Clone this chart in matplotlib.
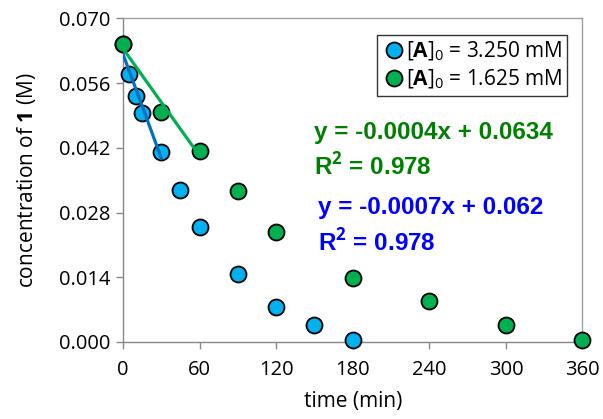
import numpy as np
import matplotlib
matplotlib.use("Agg")
import matplotlib.pyplot as plt
from matplotlib.lines import Line2D

plt.rcParams['font.family'] = ['Open Sans', 'DejaVu Sans']
plt.rcParams['mathtext.fontset'] = 'custom'
plt.rcParams['mathtext.rm'] = 'Open Sans'
plt.rcParams['mathtext.bf'] = 'Open Sans:bold'

# time (min) and concentration of 1 (M)
t_a = [0, 5, 10, 15, 30, 45, 60, 90, 120, 150, 180]
c_a = [0.0645, 0.0580, 0.0532, 0.0496, 0.0411, 0.0329, 0.0249, 0.0147, 0.0076, 0.0037, 0.0004]
t_b = [0, 30, 60, 90, 120, 180, 240, 300, 360]
c_b = [0.0645, 0.0498, 0.0413, 0.0327, 0.0238, 0.0138, 0.0089, 0.0037, 0.0004]

# initial-rate fits use the early points only
fit_a_n = 5
fit_b_n = 3

labels = [r"[$\mathbf{A}$]$_0$ = 3.250 mM", r"[$\mathbf{A}$]$_0$ = 1.625 mM"]
eq_b = ["y = -0.0004x + 0.0634", r"R$^\mathbf{2}$ = 0.978"]
eq_a = ["y = -0.0007x + 0.062", r"R$^\mathbf{2}$ = 0.978"]

xticks = [0, 60, 120, 180, 240, 300, 360]
yticks = [0.000, 0.014, 0.028, 0.042, 0.056, 0.070]

fig = plt.figure(figsize=(6.03, 4.19), dpi=100)
ax = fig.add_axes([0.204, 0.184, 0.762, 0.772])

mk = dict(marker='o', markersize=11.5, markeredgecolor='black', markeredgewidth=1.3,
          linestyle='none', clip_on=False, zorder=3)

# trend lines
pa = np.polyfit(t_a[:fit_a_n], c_a[:fit_a_n], 1)
xa = np.array([t_a[0], t_a[fit_a_n - 1]])
ax.plot(xa, np.polyval(pa, xa), color='#0070C0', lw=2.3, zorder=4)
pb = np.polyfit(t_b[:fit_b_n], c_b[:fit_b_n], 1)
xb = np.array([t_b[0], t_b[fit_b_n - 1]])
ax.plot(xb, np.polyval(pb, xb), color='#00B050', lw=2.3, zorder=4)

ax.plot(t_a, c_a, markerfacecolor='#00B0F0', **mk)
ax.plot(t_b, c_b, markerfacecolor='#00B050', **mk)

ax.set_xlim(0, 360)
ax.set_ylim(0, 0.070)
ax.set_xticks(xticks)
ax.set_yticks(yticks)
ax.set_yticklabels([f"{v:.3f}" for v in yticks])
ax.tick_params(labelsize=14.5, color='#888888', length=5, width=1, pad=4)
ax.tick_params(axis='x', pad=8)
for s in ax.spines.values():
    s.set_color('#A0A0A0')
    s.set_linewidth(1)
ax.spines['left'].set_color('#888888')
ax.spines['bottom'].set_color('#888888')

ax.set_xlabel("time (min)", fontsize=15, labelpad=8)
ax.set_ylabel(r"concentration of $\mathbf{1}$ (M)", fontsize=15, labelpad=15)

handles = [Line2D([], [], marker='o', markersize=11.5, markeredgecolor='black', markeredgewidth=1.3,
                  markerfacecolor=c, linestyle='none') for c in ['#00B0F0', '#00B050']]
leg = ax.legend(handles, labels, loc='upper right', bbox_to_anchor=(0.967, 0.949), fontsize=15,
                frameon=True, fancybox=False, edgecolor='black', handletextpad=0.0,
                borderpad=0.25, labelspacing=0.2, handlelength=1.1, borderaxespad=0)
leg.get_frame().set_linewidth(1)

tb = dict(fontsize=17.5, fontweight='bold', family=['Liberation Sans', 'DejaVu Sans'], va='center')
ax.text(150, 0.0454, eq_b[0], color='#008000', **tb)
ax.text(150, 0.0380, eq_b[1], color='#008000', **tb)
ax.text(152.5, 0.0290, eq_a[0], color='#0000FF', **tb)
ax.text(152.5, 0.0216, eq_a[1], color='#0000FF', **tb)

fig.savefig("out.png", dpi=100)
